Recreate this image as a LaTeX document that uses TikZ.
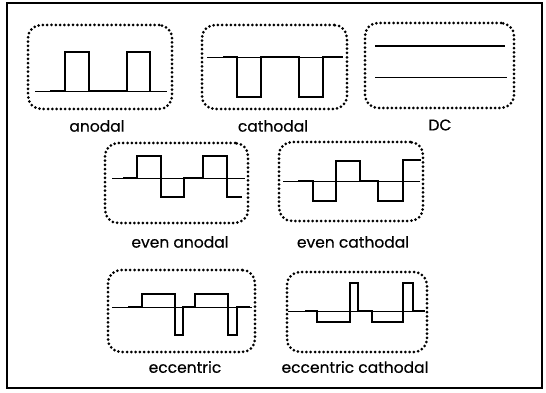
\documentclass[tikz,border=0pt]{standalone}
\usepackage{fontspec}
\setmainfont{Poppins}[FakeBold=0.4]
\usepackage{tikz}
\usetikzlibrary{positioning}

\begin{document}
\begin{tikzpicture}[x=1pt,y=-1pt,
  panel/.style={draw,line width=3pt,line cap=round,dash pattern=on 0pt off 4.3pt,
    rounded corners=13pt,inner sep=0pt},
  caption/.style={font=\fontsize{15.5}{18}\selectfont,inner sep=0pt},
  pulse/.style={line width=2.8pt,line join=miter},
  zero/.style={line width=0.7pt}]
\useasboundingbox (0,0) rectangle (546,393);
\node[draw,line width=1.8pt,minimum width=535pt,minimum height=385pt,inner sep=0pt] (frame) at (274.5,195.5) {};
% row 1
\node[panel,minimum width=144pt,minimum height=84pt] (anodal) at (100,67) {};
\node[caption] (anodal-txt) at (97,126) {anodal};
\draw[zero] (35,91) -- (167,91);
\draw[pulse] (50,91) -- (65,91) -- (65,52) -- (89,52) -- (89,91) -- (127,91) -- (127,52) -- (150,52) -- (150,91);
\node[panel,minimum width=145pt,minimum height=84pt] (cathodal) at (274.5,67) {};
\node[caption] (cathodal-txt) at (273,126) {cathodal};
\draw[zero] (207,57) -- (343,57);
\draw[pulse] (223,57) -- (237,57) -- (237,97) -- (261,97) -- (261,57) -- (299,57) -- (299,97) -- (323,97) -- (323,57) -- (343,57);
\node[panel,minimum width=149pt,minimum height=85pt] (dc) at (439.5,65.5) {};
\node[caption] (dc-txt) at (440,125) {DC};
\draw[pulse] (375,46) -- (505,46);
\draw[zero] (375,77) -- (507,77);
% row 2
\node[panel,minimum width=143pt,minimum height=80pt] (evenan) at (176.5,183) {};
\node[caption] (evenan-txt) at (180,242) {even anodal};
\draw[zero] (112,178) -- (245,178);
\draw[pulse] (123,178) -- (137,178) -- (137,156) -- (161,156) -- (161,197) -- (184,197) -- (184,178) -- (203,178) -- (203,156) -- (227,156) -- (227,197) -- (242,197);
\node[panel,minimum width=144pt,minimum height=79pt] (evencat) at (351,181.5) {};
\node[caption] (evencat-txt) at (353,242) {even cathodal};
\draw[zero] (283,181) -- (420,181);
\draw[pulse] (298,181) -- (313,181) -- (313,201) -- (336,201) -- (336,161) -- (360,161) -- (360,181) -- (378,181) -- (378,201) -- (403,201) -- (403,160) -- (421,160);
% row 3
\node[panel,minimum width=147pt,minimum height=82pt] (ecc) at (181.5,311) {};
\node[caption] (ecc-txt) at (185,367) {eccentric};
\draw[zero] (112,307) -- (252,307);
\draw[pulse] (128,307) -- (142,307) -- (142,294) -- (175,294) -- (175,335) -- (183,335) -- (183,307) -- (195,307) -- (195,294) -- (228,294) -- (228,335) -- (237,335) -- (237,307) -- (250,307);
\node[panel,minimum width=140pt,minimum height=80pt] (ecccat) at (357,312) {};
\node[caption] (ecccat-txt) at (355,367) {eccentric cathodal};
\draw[zero] (288,311) -- (425,311);
\draw[pulse] (305,311) -- (317,311) -- (317,322) -- (350,322) -- (350,283) -- (358,283) -- (358,311) -- (372,311) -- (372,322) -- (403,322) -- (403,283) -- (413,283) -- (413,311) -- (425,311);
\end{tikzpicture}
\end{document}
